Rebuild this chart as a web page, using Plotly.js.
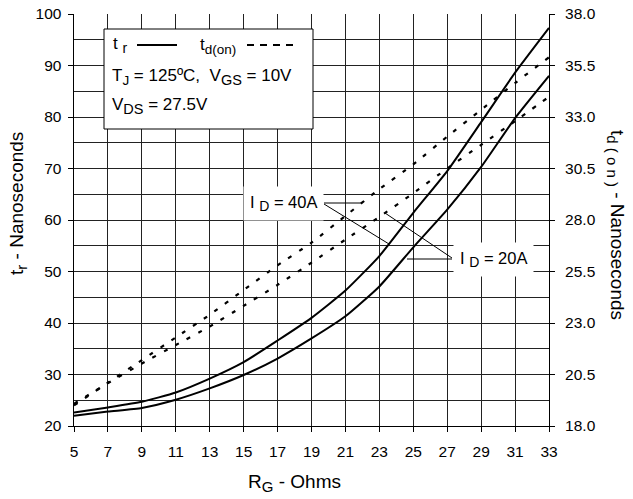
<!DOCTYPE html>
<html>
<head>
<meta charset="utf-8">
<script src="https://cdn.plot.ly/plotly-3.0.1.min.js"></script>
<style>html,body{margin:0;padding:0;background:#fff;}#chart{width:633px;height:499px;}</style>
</head>
<body>
<div id="chart"></div>
<script>
// Gate resistance (Ohms)
const rg = [5, 7, 9, 11, 13, 15, 17, 19, 21, 23, 25, 27, 29, 31, 33];
// Rise time t_r (ns), left axis
const tr40 = [22.6, 23.6, 24.7, 26.5, 29.2, 32.4, 36.6, 41.0, 46.3, 53.0, 61.4, 69.5, 79.0, 88.6, 97.3];
const tr20 = [22.0, 22.8, 23.5, 25.1, 27.3, 29.9, 33.1, 37.0, 41.3, 47.1, 54.7, 62.0, 70.3, 79.8, 88.0];
// Turn-on delay t_d(on) (ns), right axis
const td40 = [19.0, 20.1, 21.2, 22.3, 23.4, 24.6, 25.8, 26.9, 28.2, 29.5, 30.7, 32.05, 33.35, 34.65, 35.9];
const td20 = [19.08, 20.08, 21.03, 21.93, 22.83, 23.83, 24.85, 25.93, 27.05, 28.15, 29.3, 30.5, 31.65, 32.8, 33.98];
// Tick labels
const xTicks = [5, 7, 9, 11, 13, 15, 17, 19, 21, 23, 25, 27, 29, 31, 33];
const yTicks = [20, 30, 40, 50, 60, 70, 80, 90, 100];
const y2Ticks = [18.0, 20.5, 23.0, 25.5, 28.0, 30.5, 33.0, 35.5, 38.0];

const FONT = 'Liberation Sans, Arial, sans-serif';
const TICK_FS = 15.5;
const TEXT_FS = 17;
const TITLE_FS = 19;

// plot area in pixels (for layout positioning of decorations)
const L = 74, R = 549, T = 14, B = 426;
const px = v => (v - L) / (R - L);
const py = v => (B - v) / (B - T);

const solid = {color: '#000', width: 2, shape: 'spline', smoothing: 0.5};
const dashed = {color: '#000', width: 2.2, dash: '4px,9px', shape: 'spline', smoothing: 0.5};

const traces = [
  {x: rg, y: tr40, mode: 'lines', line: solid, yaxis: 'y', hoverinfo: 'skip'},
  {x: rg, y: tr20, mode: 'lines', line: solid, yaxis: 'y', hoverinfo: 'skip'},
  {x: rg, y: td40, mode: 'lines', line: dashed, yaxis: 'y2', hoverinfo: 'skip'},
  {x: rg, y: td20, mode: 'lines', line: dashed, yaxis: 'y2', hoverinfo: 'skip'}
];

function line(x0, y0, x1, y1, extra) {
  return Object.assign({type: 'line', xref: 'paper', yref: 'paper',
    x0: px(x0), y0: py(y0), x1: px(x1), y1: py(y1),
    line: {color: '#000', width: 1}, layer: 'above'}, extra || {});
}

const shapes = [
  {type: 'rect', xref: 'paper', yref: 'paper', x0: px(104), x1: px(313), y0: py(129), y1: py(29),
   fillcolor: '#fff', line: {color: '#000', width: 1}, layer: 'above'},
  line(137, 45, 177, 45, {line: {color: '#000', width: 2}}),
  line(247, 45, 295, 45, {line: {color: '#000', width: 2, dash: '7px,6px'}}),
  // leaders for I_D = 40A
  line(324, 203, 362, 203),
  line(324, 204, 389, 244),
  // leaders for I_D = 20A
  line(452, 258, 385, 213),
  line(452, 259, 407, 259)
];

function sub(s, size) {
  return '<sub><span style="font-size:' + size + 'px">' + s + '</span></sub>';
}

function ann(text, x, y, extra) {
  return Object.assign({xref: 'paper', yref: 'paper', x: px(x), y: py(y), text: text,
    showarrow: false, xanchor: 'left', yanchor: 'middle',
    font: {family: FONT, size: TEXT_FS, color: '#000'}}, extra || {});
}

const titleFont = {family: FONT, size: TITLE_FS, color: '#000'};

const annotations = [
  ann('t ' + sub('r', 14), 111, 45),
  ann('t' + sub('d(on)', 13.5), 198, 46),
  ann('T' + sub('J', 13.5) + ' = 125ºC,  V' + sub('GS', 14.5) + ' = 10V', 110, 77),
  ann('V' + sub('DS', 14.5) + ' = 27.5V', 110, 106),
  ann('I ' + sub('D', 14) + ' = 40A', 243, 203, {bgcolor: '#fff', borderpad: 6, font: {family: FONT, size: 16.5, color: '#000'}}),
  ann('I ' + sub('D', 14) + ' = 20A', 453, 259, {bgcolor: '#fff', borderpad: 6, font: {family: FONT, size: 16.5, color: '#000'}}),
  // axis titles
  ann('t' + sub('r', 15) + ' - Nanoseconds', 18, 204, {textangle: -90, xanchor: 'center', font: titleFont}),
  ann('t' + sub('d ( o n )', 15) + ' - Nanoseconds', 616, 225, {textangle: 90, xanchor: 'center', font: titleFont}),
  ann('R' + sub('G', 15) + ' - Ohms', 294, 483, {xanchor: 'center', font: titleFont})
];

const tickFont = {family: FONT, size: TICK_FS, color: '#000'};

const layout = {
  width: 633, height: 499,
  margin: {l: L, r: 633 - R, t: T, b: 499 - B},
  paper_bgcolor: '#fff', plot_bgcolor: '#fff',
  showlegend: false,
  font: {family: FONT, size: TICK_FS, color: '#000'},
  xaxis: {
    range: [5, 33], tickvals: xTicks, ticktext: xTicks.map(String),
    showgrid: true, gridcolor: '#222', gridwidth: 1, zeroline: false,
    showline: true, linecolor: '#000', linewidth: 1,
    ticks: 'outside', ticklen: 5, tickcolor: '#000',
    ticklabelstandoff: 6,
    tickfont: tickFont
  },
  yaxis: {
    range: [20, 100], tickvals: yTicks, ticktext: yTicks.map(String),
    showgrid: true, gridcolor: '#222', gridwidth: 1, zeroline: false,
    showline: true, linecolor: '#000', linewidth: 1.5,
    ticks: 'outside', ticklen: 5, tickcolor: '#000',
    ticklabelstandoff: 3,
    minor: {dtick: 5, tick0: 20, showgrid: true, gridcolor: '#222', gridwidth: 1, ticks: ''},
    tickfont: tickFont
  },
  yaxis2: {
    overlaying: 'y', side: 'right',
    range: [18, 38], tickvals: y2Ticks, ticktext: y2Ticks.map(v => v.toFixed(1)),
    showgrid: false, zeroline: false,
    showline: true, linecolor: '#000', linewidth: 1,
    ticks: 'outside', ticklen: 5, tickcolor: '#000',
    ticklabelstandoff: 7,
    tickfont: tickFont
  },
  shapes: shapes,
  annotations: annotations
};

Plotly.newPlot('chart', traces, layout, {staticPlot: true, displayModeBar: false});
</script>
</body>
</html>
